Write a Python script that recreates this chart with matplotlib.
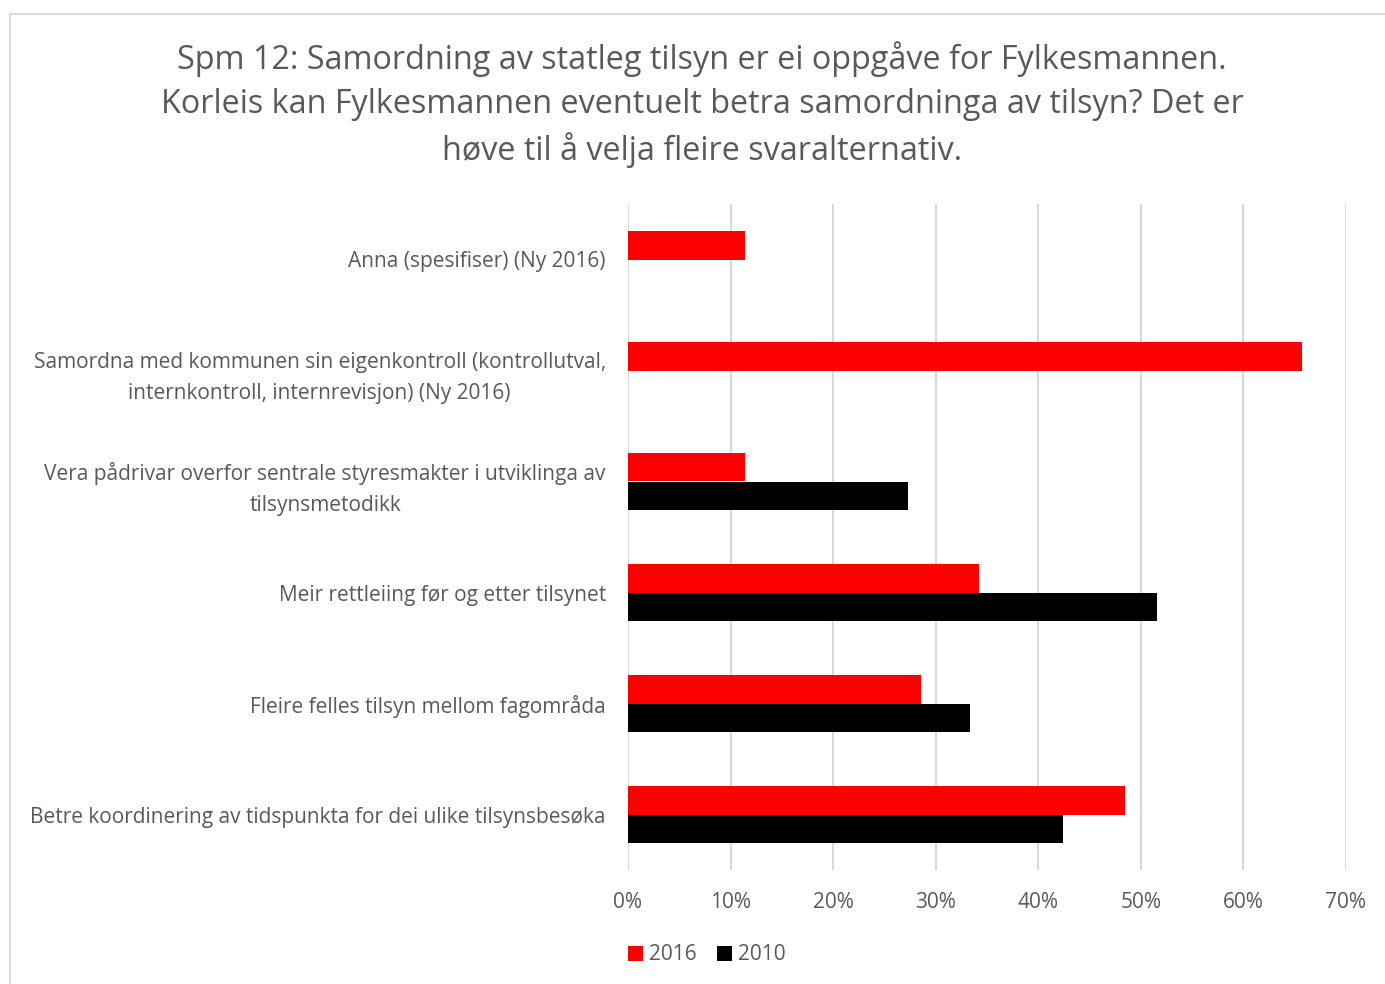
import numpy as np
import matplotlib.pyplot as plt
from matplotlib.patches import Rectangle

plt.rcParams['font.family'] = ['Open Sans', 'DejaVu Sans']

categories = ['Anna (spesifiser) (Ny 2016)',
              'Samordna med kommunen sin eigenkontroll (kontrollutval,\ninternkontroll, internrevisjon) (Ny 2016)',
              'Vera pådrivar overfor sentrale styresmakter i utviklinga av\ntilsynsmetodikk',
              'Meir rettleiing før og etter tilsynet',
              'Fleire felles tilsyn mellom fagområda',
              'Betre koordinering av tidspunkta for dei ulike tilsynsbesøka']
v2016 = [11.4, 65.7, 11.4, 34.2, 28.6, 48.5]
v2010 = [np.nan, np.nan, 27.3, 51.6, 33.3, 42.4]
xticks = [0, 10, 20, 30, 40, 50, 60, 70]

grey = '#595959'
fig = plt.figure(figsize=(13.85, 9.84), dpi=100)
fig.patches.append(Rectangle((10/1385, -0.01), 1.1, 1 - 14/984 + 0.01, transform=fig.transFigure,
                             fill=False, edgecolor='#d9d9d9', linewidth=1.5))
ax = fig.add_axes([628/1385, 1 - 870/984, 718/1385, 666/984])

y = np.arange(len(categories))
h = 0.26
ax.barh(y - h/2, v2016, height=h, color='#ff0000', label='2016', zorder=3)
ax.barh(y + h/2, v2010, height=h, color='#000000', label='2010', zorder=3)
ax.set_ylim(len(categories) - 0.5, -0.5)
ax.set_xlim(0, 70)
ax.set_xticks(xticks)
ax.set_xticklabels(['%d%%' % t for t in xticks], fontsize=15, color=grey)
ax.set_yticks(y)
ax.set_yticklabels(categories, fontsize=15, color=grey, linespacing=1.6)
for lab in ax.get_yticklabels():
    lab.set_multialignment('center')
ax.tick_params(axis='y', length=0, pad=16)
ax.tick_params(axis='x', length=0, pad=16)
ax.grid(axis='x', color='#d9d9d9', linewidth=1.5, zorder=0)
for s in ax.spines.values():
    s.set_visible(False)

fig.text(702/1385, 1 - 105/984,
         'Spm 12: Samordning av statleg tilsyn er ei oppgåve for Fylkesmannen.\n'
         'Korleis kan Fylkesmannen eventuelt betra samordninga av tilsyn? Det er\n'
         'høve til å velja fleire svaralternativ.',
         ha='center', va='center', fontsize=23.3, color=grey, linespacing=1.42)

fig.legend(loc='center', bbox_to_anchor=(707/1385, 1 - 955/984), ncol=2, frameon=False,
           fontsize=15, labelcolor=grey, handlelength=0.7, handleheight=0.7,
           handletextpad=0.3, columnspacing=1.0)

fig.savefig('out.png', dpi=100)
